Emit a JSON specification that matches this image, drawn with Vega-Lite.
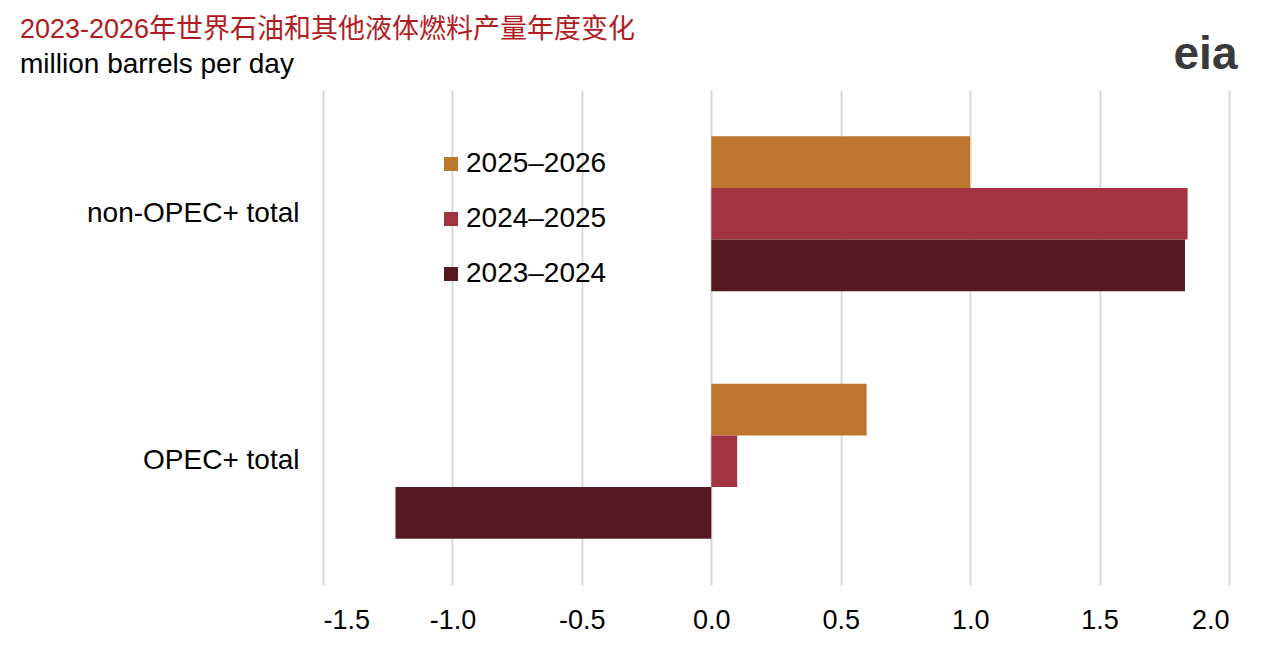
{
  "$schema": "https://vega.github.io/schema/vega-lite/v6.json",
  "width": 906,
  "height": 495,
  "autosize": {"type": "none"},
  "padding": {"left": 323, "top": 90, "right": 51, "bottom": 72},
  "background": "white",
  "title": {
    "text": "2023-2026年世界石油和其他液体燃料产量年度变化",
    "subtitle": "million barrels per day",
    "anchor": "start",
    "frame": "group",
    "dx": -303,
    "offset": -49,
    "font": "Liberation Sans, Noto Sans CJK SC",
    "fontSize": 27,
    "fontWeight": "normal",
    "color": "#B01C22",
    "subtitleFont": "Liberation Sans",
    "subtitleFontSize": 28,
    "subtitleColor": "#000000",
    "subtitlePadding": 7
  },
  "data": {
    "values": [
      {"region": "non-OPEC+ total", "period": "2025–2026", "value": 1.0},
      {"region": "non-OPEC+ total", "period": "2024–2025", "value": 1.84},
      {"region": "non-OPEC+ total", "period": "2023–2024", "value": 1.83},
      {"region": "OPEC+ total", "period": "2025–2026", "value": 0.6},
      {"region": "OPEC+ total", "period": "2024–2025", "value": 0.1},
      {"region": "OPEC+ total", "period": "2023–2024", "value": -1.22}
    ]
  },
  "layer": [
    {
      "mark": {"type": "bar"},
      "encoding": {
        "y": {
          "field": "region",
          "type": "nominal",
          "sort": ["non-OPEC+ total", "OPEC+ total"],
          "scale": {"paddingInner": 0.374, "paddingOuter": 0.187},
          "axis": {
            "title": null,
            "domain": false,
            "ticks": false,
            "labelFont": "Liberation Sans",
            "labelFontSize": 28,
            "labelColor": "#000000",
            "labelPadding": 24,
            "labelLimit": 0
          }
        },
        "yOffset": {
          "field": "period",
          "type": "nominal",
          "sort": ["2025–2026", "2024–2025", "2023–2024"],
          "scale": {"paddingInner": 0, "paddingOuter": 0}
        },
        "x": {
          "field": "value",
          "type": "quantitative",
          "scale": {"domain": [-1.5, 2.0], "nice": false, "zero": false},
          "axis": {
            "title": null,
            "values": [-1.5, -1.0, -0.5, 0.0, 0.5, 1.0, 1.5, 2.0],
            "labelExpr": "replace(format(datum.value, '.1f'), '\u2212', '-')",
            "domain": false,
            "ticks": false,
            "grid": true,
            "gridColor": "#D9D9D9",
            "gridWidth": 2,
            "labelFont": "Liberation Sans",
            "labelFontSize": 27,
            "labelColor": "#000000",
            "labelPadding": 22
          }
        },
        "color": {
          "field": "period",
          "type": "nominal",
          "scale": {
            "domain": ["2025–2026", "2024–2025", "2023–2024"],
            "range": ["#BE752D", "#A23340", "#541921"]
          },
          "legend": {
            "title": null,
            "orient": "none",
            "legendX": 114,
            "legendY": 60,
            "symbolType": "square",
            "symbolSize": 196,
            "symbolStrokeWidth": 0,
            "labelFont": "Liberation Sans",
            "labelFontSize": 28,
            "labelColor": "#000000",
            "labelOffset": 1,
            "rowPadding": 27
          }
        }
      }
    },
    {
      "mark": {"type": "rule", "opacity": 0},
      "encoding": {
        "x": {
          "datum": 0,
          "type": "quantitative",
          "axis": {
            "orient": "top",
            "title": "eia",
            "labels": false,
            "ticks": false,
            "domain": false,
            "grid": false,
            "titleFont": "Liberation Sans",
            "titleFontSize": 46,
            "titleFontWeight": "bold",
            "titleColor": "#3A3A3A",
            "titleAlign": "center",
            "titleBaseline": "alphabetic",
            "titleAnchor": null,
            "titleX": 882,
            "titleY": -22
          }
        }
      }
    }
  ],
  "resolve": {"axis": {"x": "independent"}},
  "config": {
    "view": {"stroke": null},
    "axis": {"labelFontWeight": "normal"}
  }
}
